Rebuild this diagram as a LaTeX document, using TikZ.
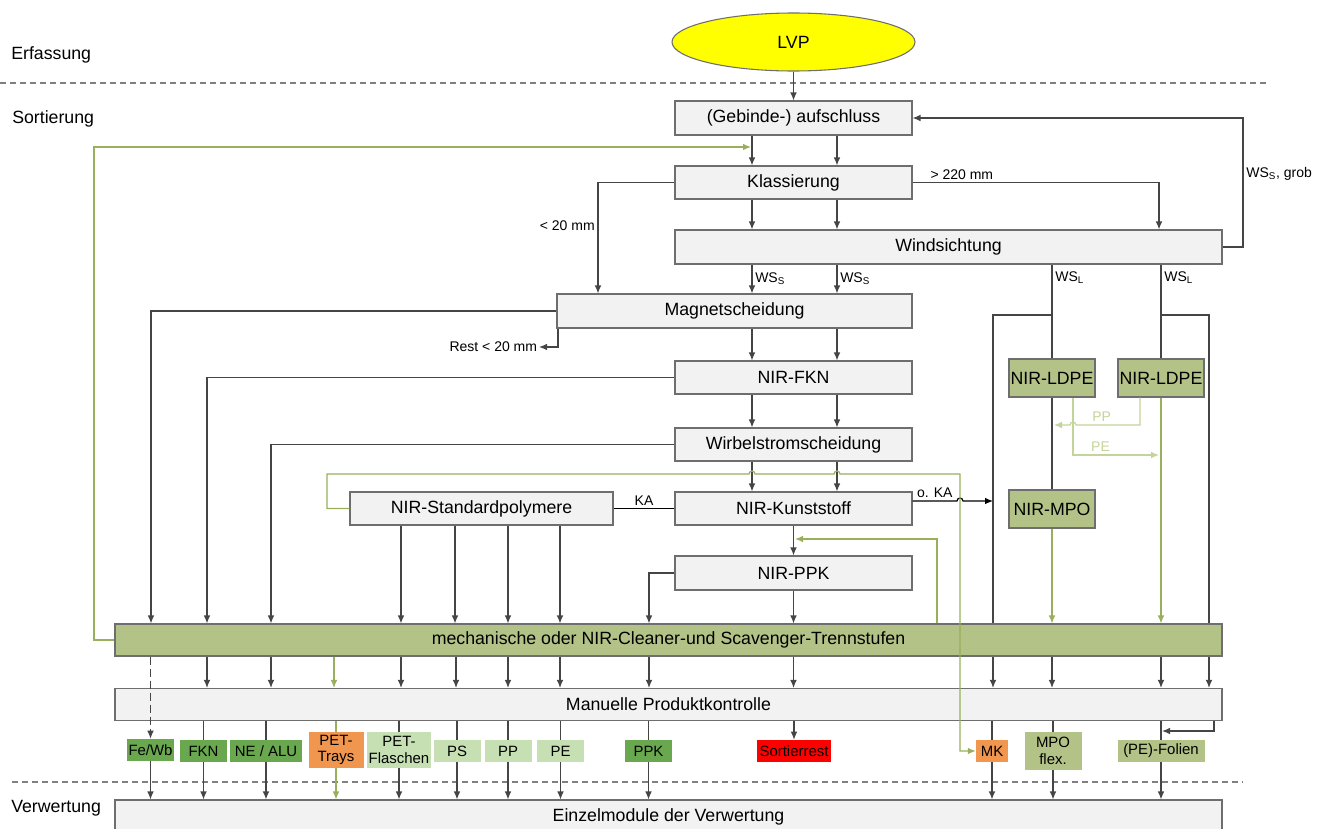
\documentclass[tikz,border=0pt]{standalone}
\usepackage{fontspec}
\setmainfont{Liberation Sans}
\usetikzlibrary{arrows.meta}
\usetikzlibrary{shapes.geometric}
\usetikzlibrary{backgrounds}

\definecolor{boxgray}{HTML}{F2F2F2}
\definecolor{boxline}{HTML}{6E6E6E}
\definecolor{linegray}{HTML}{454545}
\definecolor{nirgreen}{HTML}{B3C287}
\definecolor{greenline}{HTML}{98AF5B}
\definecolor{paleline}{HTML}{C3D49B}
\definecolor{prodgreen}{HTML}{6AA84F}
\definecolor{palegreen}{HTML}{C6E0B4}
\definecolor{petorange}{HTML}{F0964F}
\definecolor{restred}{HTML}{FF0000}
\definecolor{lvpyellow}{HTML}{FFFF00}
\definecolor{divgray}{HTML}{808080}

\begin{document}
\begin{tikzpicture}[x=0.75pt,y=-0.75pt]
	\tikzset{dims/.style 2 args = {minimum width=#1*0.75pt,minimum height=#2*0.75pt}}
	\tikzset{stage/.style = {shape=rectangle,draw=boxline,fill=boxgray,line width=0.8pt,inner sep=0pt,font=\fontsize{13.3}{15}\selectfont}}
	\tikzset{nirbox/.style = {stage,fill=nirgreen}}
	\tikzset{lvpnode/.style = {shape=ellipse,draw=boxline,fill=lvpyellow,line width=0.8pt,inner sep=0pt,font=\fontsize{13.3}{15}\selectfont}}
	\tikzset{product/.style = {shape=rectangle,inner sep=0pt,align=center,font=\fontsize{11.2}{12.5}\selectfont}}
	\tikzset{phase/.style = {anchor=west,inner sep=0pt,font=\fontsize{13.3}{15}\selectfont}}
	\tikzset{tag/.style = {inner sep=2pt,font=\fontsize{10.5}{12}\selectfont}}
	\tikzset{link/.style = {draw=linegray,line width=0.9pt}}
	\tikzset{edge/.style = {link,->,> = {Latex[length=6pt,width=5pt]}}}
	\tikzset{greenedge/.style = {edge,draw=greenline}}
	\tikzset{greenlink/.style = {link,draw=greenline}}
	\tikzset{paleedge/.style = {edge,draw=paleline}}
	\tikzset{blackedge/.style = {edge,draw=black}}
	\tikzset{divider/.style = {draw=divgray,line width=0.8pt,dash pattern=on 4.5pt off 3pt}}
	\useasboundingbox (0,0) rectangle (1333,828);
	% phases
	\node[phase] (erf) at (11,55) {Erfassung};
	\node[phase] (sort) at (12,119) {Sortierung};
	\node[phase] (verw) at (11,808) {Verwertung};
	\draw[divider] (0,83) -- (1268,83);
	\draw[divider] (12,782) -- (1243,782);
	% stages
	\node[lvpnode,dims={243}{58}] (lvp) at (793.5,42) {LVP};
	\node[stage,dims={237}{34}] (gebinde) at (793.5,118) {(Gebinde-) aufschluss};
	\node[stage,dims={237}{33}] (klass) at (793.5,182.5) {Klassierung};
	\node[stage,dims={547}{34}] (wind) at (948.5,247) {Windsichtung};
	\node[stage,dims={355}{34}] (magnet) at (734.5,311) {Magnetscheidung};
	\node[stage,dims={237}{33}] (nirfkn) at (793.5,377.5) {NIR-FKN};
	\node[stage,dims={237}{33}] (wirbel) at (793.5,444.5) {Wirbelstromscheidung};
	\node[stage,dims={237}{33}] (kunst) at (793.5,508.5) {NIR-Kunststoff};
	\node[stage,dims={263}{33}] (standard) at (481.5,508.5) {NIR-Standardpolymere};
	\node[stage,dims={237}{34}] (nirppk) at (793.5,573) {NIR-PPK};
	\node[nirbox,dims={86}{38}] (ldpeA) at (1052,378) {NIR-LDPE};
	\node[nirbox,dims={86}{38}] (ldpeB) at (1161,378) {NIR-LDPE};
	\node[nirbox,dims={86}{38}] (mpo) at (1052,509) {NIR-MPO};
	\node[nirbox,dims={1107}{32}] (trenn) at (668.5,640) {mechanische oder NIR-Cleaner-und Scavenger-Trennstufen};
	\node[stage,dims={1107}{32}] (manuell) at (668.5,704.5) {Manuelle Produktkontrolle};
	\node[stage,dims={1107}{34}] (einzel) at (668.5,817) {Einzelmodule der Verwertung};
	% products
	\node[product,fill=prodgreen,dims={47}{22}] (fewb) at (150.5,750) {Fe/Wb};
	\node[product,fill=prodgreen,dims={47}{22}] (fkn) at (203.5,751) {FKN};
	\node[product,fill=prodgreen,dims={72}{22}] (nealu) at (266,751) {NE / ALU};
	\node[product,fill=petorange,dims={55}{36}] (pettrays) at (336,750) {PET-\\Trays};
	\node[product,fill=palegreen,dims={64}{36}] (petfl) at (399,750) {PET-\\Flaschen};
	\node[product,fill=palegreen,dims={47}{22}] (ps) at (457,751) {PS};
	\node[product,fill=palegreen,dims={47}{22}] (pp) at (508,751) {PP};
	\node[product,fill=palegreen,dims={47}{22}] (pe) at (560.5,751) {PE};
	\node[product,fill=prodgreen,dims={47}{22}] (ppk) at (648.5,751) {PPK};
	\node[product,fill=restred,dims={74}{22}] (rest) at (794,751) {Sortierrest};
	\node[product,fill=petorange,dims={32}{22}] (mk) at (992,751) {MK};
	\node[product,fill=nirgreen,dims={57}{38}] (mpoflex) at (1053,751) {MPO\\flex.};
	\node[product,fill=nirgreen,dims={87}{22}] (folien) at (1161,751) {(PE)-Folien};
	% main line
	\draw[edge] (lvp) -- (gebinde);
	\foreach \a/\b in {gebinde/klass,klass/wind,magnet/nirfkn,nirfkn/wirbel,wirbel/kunst}
		\foreach \x in {752,837}
			\draw[edge] (\x,0 |- \a.south) -- (\x,0 |- \b.north);
	\foreach \x in {752,837}
		\draw[edge] (\x,0 |- wind.south) -- node[tag,right] {WS\textsubscript{S}} (\x,0 |- magnet.north);
	\draw[edge] (klass.east) -- node[tag,above,pos=0.2] {> 220 mm} (1159,0 |- klass.east) -- (1159,0 |- wind.north);
	\draw[edge] (wind.east) -- (1243,0 |- wind.east) -- node[tag,right,pos=0.57] {WS\textsubscript{S}, grob} (1243,0 |- gebinde.east) -- (gebinde.east);
	\draw[edge] (klass.west) -- (598,0 |- klass.west) -- node[tag,left,pos=0.39] {< 20 mm} (598,0 |- magnet.north);
	% foil line
	\draw[link] (1052,0 |- wind.south) -- node[tag,right,pos=0.14] {WS\textsubscript{L}} (ldpeA.north);
	\draw[link] (1161,0 |- wind.south) -- node[tag,right,pos=0.14] {WS\textsubscript{L}} (ldpeB.north);
	\coordinate (forkA) at (1052,315);
	\coordinate (forkB) at (1161,315);
	\begin{pgfonlayer}{background}
		\draw[edge] (forkA) -- (993,0 |- forkA) -- (993,0 |- manuell.north);
		\draw[edge] (forkB) -- (1209,0 |- forkB) -- (1209,0 |- manuell.north);
	\end{pgfonlayer}
	\draw[link] (ldpeA) -- (mpo);
	\draw[greenedge] (mpo) -- (mpo.south |- trenn.north);
	\draw[greenedge] (ldpeB) -- (ldpeB.south |- trenn.north);
	\draw[paleedge] (1140,0 |- ldpeB.south) -- (1140,425) -- node[tag,above,text=paleline,pos=0.6] {PP} (1076,425) arc (0:-180:3) -- (1054,425);
	\draw[paleedge] (1073,0 |- ldpeA.south) -- (1073,455) -- node[tag,above,text=paleline,pos=0.32] {PE} (1159,455);
	% side streams
	\draw[edge] (magnet.west) -- (151,0 |- magnet.west) -- (151,0 |- trenn.north);
	\draw[edge] (nirfkn.west) -- (207,0 |- nirfkn.west) -- (207,0 |- trenn.north);
	\draw[edge] (wirbel.west) -- (271,0 |- wirbel.west) -- (271,0 |- trenn.north);
	\draw[edge] (558,0 |- magnet.south) -- (558,347) -- (539,347) node[tag,left,inner sep=1pt] {Rest < 20 mm};
	\foreach \x in {401,455,508,560}
		\draw[edge] (\x,0 |- standard.south) -- (\x,0 |- trenn.north);
	\draw[draw=black,line width=0.9pt] (kunst.west) -- node[tag,above] {KA} (standard.east);
	\draw[blackedge] ([yshift=5.6pt]kunst.east) -- node[tag,above] {o. KA} (957,501) arc (180:360:3) -- (993,501);
	\draw[edge] (kunst) -- (nirppk);
	\draw[edge] (nirppk.west) -- (649,0 |- nirppk.west) -- (649,0 |- trenn.north);
	\draw[edge] (nirppk) -- (nirppk.south |- trenn.north);
	% recirculation
	\draw[greenedge] (937,0 |- trenn.north) -- (937,539) -- (795,539);
	\draw[greenedge] (standard.west) -- (327,0 |- standard.west) -- (327,474) -- (749,474) arc (180:360:3) -- (834,474) arc (180:360:3) -- (960,474) -- (960,0 |- mk.west) -- (mk.west);
	\draw[greenedge] (trenn.west) -- (94,0 |- trenn.west) -- (94,147) -- (751,147);
	% to manual control
	\foreach \x in {207,271,401,456,508,560,649,793.5,1052,1161}
		\draw[edge] (\x,0 |- trenn.south) -- (\x,0 |- manuell.north);
	\draw[greenedge] (334,0 |- trenn.south) -- (334,0 |- manuell.north);
	\draw[edge,dash pattern=on 6pt off 3pt] (fewb.north |- trenn.south) -- (fewb);
	% products
	\foreach \p in {fkn,nealu,petfl,ps,pp,pe,ppk,mk,mpoflex,folien}
		\draw[link] (\p.north |- manuell.south) -- (\p);
	\draw[greenlink] (pettrays.north |- manuell.south) -- (pettrays);
	\draw[edge] (rest.north |- manuell.south) -- (rest);
	\draw[edge] (1214,0 |- manuell.south) -- (1214,731) -- (1162,731);
	\foreach \p in {fewb,fkn,nealu,petfl,ps,pp,pe,ppk,mk,mpoflex,folien}
		\draw[edge] (\p) -- (\p.south |- einzel.north);
	\draw[greenedge] (pettrays) -- (pettrays.south |- einzel.north);
\end{tikzpicture}
\end{document}
